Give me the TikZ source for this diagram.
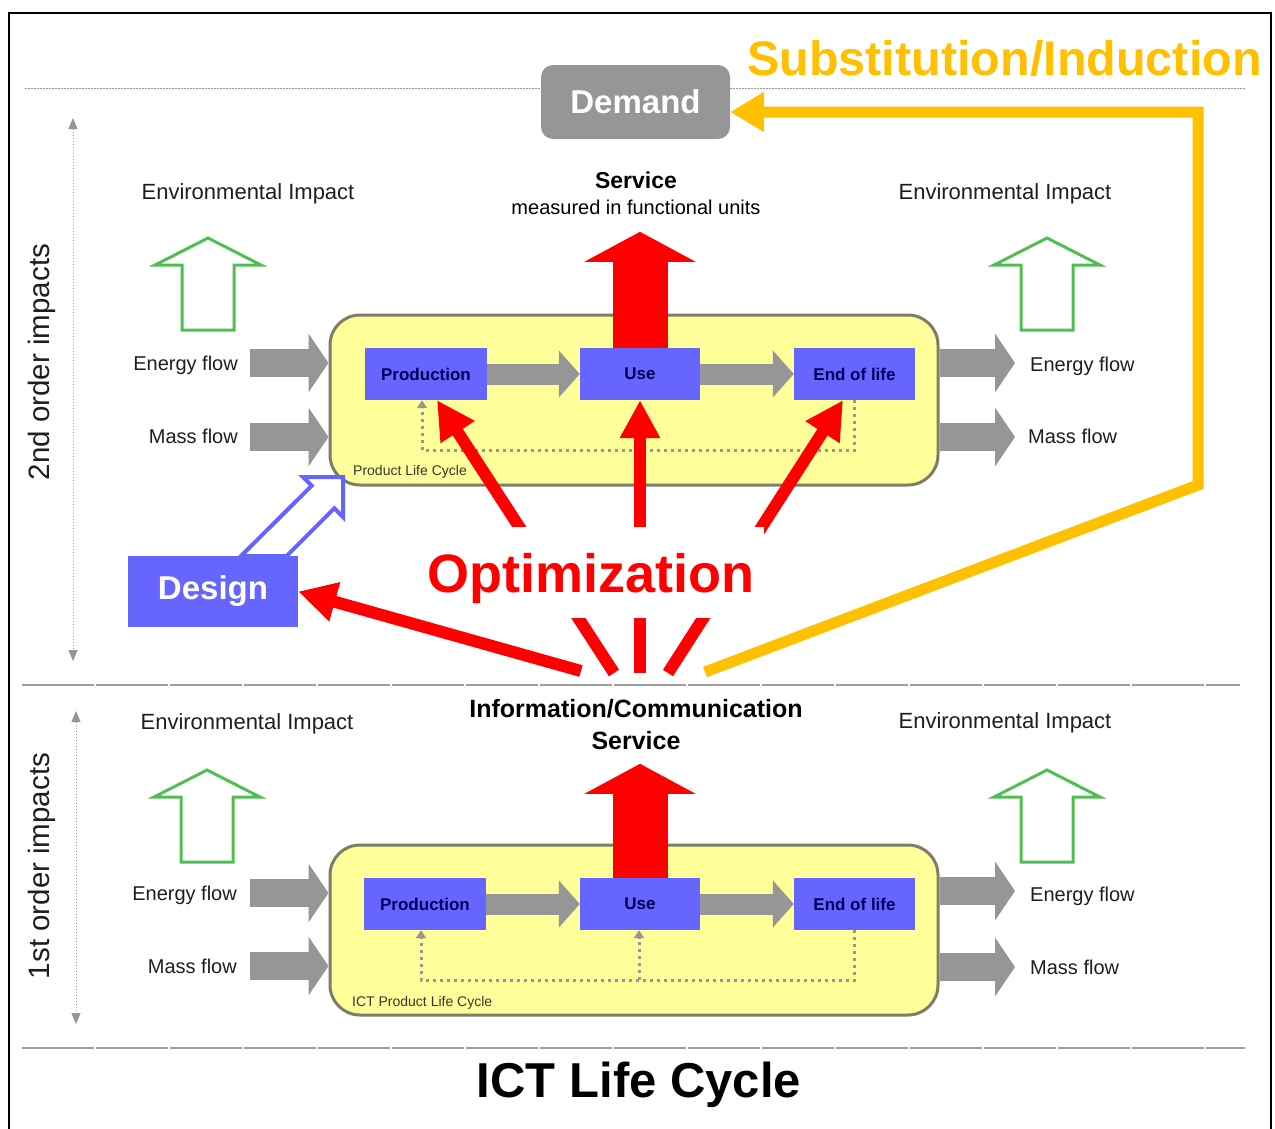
\documentclass[tikz,border=0pt]{standalone}
\usepackage{fontspec}
\setmainfont{Liberation Sans}
\usetikzlibrary{arrows.meta,calc}

\definecolor{boxblue}{RGB}{102,102,255}
\definecolor{lcyellow}{RGB}{255,255,153}
\definecolor{lcedge}{RGB}{125,125,105}
\definecolor{flowgray}{RGB}{150,150,150}
\definecolor{demandgray}{RGB}{150,150,150}
\definecolor{impactgreen}{RGB}{80,190,80}
\definecolor{gold}{RGB}{255,192,0}
\definecolor{optred}{RGB}{255,0,0}
\definecolor{navytext}{RGB}{0,0,90}
\definecolor{labelgray}{RGB}{30,30,30}
\definecolor{designblue}{RGB}{100,100,255}

\newcommand\setfs[1]{\fontsize{#1}{#1}\selectfont}

\tikzset{
  lcbox/.style={draw=lcedge, line width=3pt, fill=lcyellow, rounded corners=30pt,
    minimum width=608pt, minimum height=170pt},
  stagebox/.style={fill=boxblue, minimum height=52pt, text=navytext,
    font=\setfs{17}\bfseries, inner sep=0pt},
  stagearrow/.style={draw=flowgray, line width=21pt, -{Triangle[length=21pt,width=46pt]}},
  ioarrow/.style={draw=flowgray, line width=28pt, -{Triangle[length=20pt,width=58pt]}},
  fbline/.style={draw=flowgray, line width=3pt, dash pattern=on 3pt off 4pt,
    -{Triangle[length=8pt,width=10pt]}},
  svcarrow/.style={draw=optred, line width=55pt, -{Triangle[length=30pt,width=110pt]}},
  optarrow/.style={draw=optred, line width=12pt, -{Triangle[length=38pt,width=38pt]}},
  goldline/.style={draw=gold, line width=11pt, line join=miter,
    -{Triangle[length=34pt,width=38pt]}},
  impactlabel/.style={text=labelgray, font=\setfs{22}, inner sep=0pt},
  flowlabel/.style={text=labelgray, font=\setfs{20}, inner sep=0pt},
  cyclelabel/.style={text=labelgray!90, font=\setfs{14}, inner sep=0pt, anchor=base west},
  axisline/.style={draw=flowgray, line width=1pt, dash pattern=on 1.5pt off 1.5pt,
    {Triangle[length=11pt,width=9pt]}-{Triangle[length=11pt,width=9pt]}},
  axislabel/.style={text=labelgray, font=\setfs{29.5}, rotate=90, inner sep=0pt},
  seprule/.style={draw=gray!75, line width=1.2pt, dash pattern=on 72pt off 2pt},
  topdots/.style={draw=gray!80, line width=1pt, dash pattern=on 1.5pt off 1.5pt},
  envarrow/.pic={
    \draw[impactgreen, line width=3pt, fill=white, line join=miter]
      (0,0) -- (53,27) -- (26,27) -- (26,92) -- (-26,92) -- (-26,27) -- (-53,27) -- cycle;
  }
}

\begin{document}
\begin{tikzpicture}[x=1pt,y=-1pt]
  \useasboundingbox (0,0) rectangle (1275,1128);
  \fill[white] (0,0) rectangle (1275,1128);

  % outer frame
  \draw[black, line width=2pt] (9,13) rectangle (1271,1135);

  % level separators and the impact axes
  \draw[topdots] (25,88) -- (1245,88);
  \draw[seprule] (22,685) -- (1240,685);
  \draw[seprule] (22,1048) -- (1245,1048);
  \draw[axisline] (73,118) -- (73,661);
  \draw[axisline] (76,711) -- (76,1024);
  \node[axislabel] (lvl2) at (42,362) {2nd order impacts};
  \node[axislabel] (lvl1) at (42,866) {1st order impacts};

  % demand and rebound label
  \node[fill=demandgray, rounded corners=12pt, minimum width=189pt, minimum height=74pt,
        text=white, font=\setfs{33}\bfseries, inner sep=0pt] (demand) at (635.5,102) {Demand};
  \node[anchor=base west, text=gold, font=\setfs{48.5}\bfseries, inner sep=0pt]
        (subst) at (747,75) {Substitution/Induction};

  % environmental impact markers
  \node[impactlabel] (envL2) at (248,194) {Environmental Impact};
  \node[impactlabel] (envR2) at (1005,194) {Environmental Impact};
  \node[impactlabel] (envL1) at (247,724) {Environmental Impact};
  \node[impactlabel] (envR1) at (1005,723) {Environmental Impact};
  \pic at (208,238) {envarrow};
  \pic at (1047,238) {envarrow};
  \pic at (207,770) {envarrow};
  \pic at (1047,770) {envarrow};

  % service labels
  \node[text=black, font=\setfs{23}\bfseries, inner sep=0pt] (svc2) at (636,180) {Service};
  \node[text=black, font=\setfs{20}, inner sep=0pt] (svcunit) at (636,207) {measured in functional units};
  \node[text=black, font=\fontsize{25}{32}\selectfont\bfseries, align=center, inner sep=0pt]
        (svc1) at (636,725) {Information/Communication\\Service};

  % ---------- product life cycle (2nd order) ----------
  \node[lcbox] (plc2) at (634,400) {};
  \node[stagebox, minimum width=122pt] (prod2) at (426,374) {Production};
  \node[stagebox, minimum width=120pt] (use2) at (640,374) {Use};
  \node[stagebox, minimum width=121pt] (eol2) at (854.5,374) {End of life};
  \draw[stagearrow] (prod2) -- (use2);
  \draw[stagearrow] (use2) -- (eol2);
  \draw[fbline] (eol2.south) -- ++(0,50) -| ([xshift=-4pt]prod2.south);
  \node[cyclelabel] (plc2name) at (353,475) {Product Life Cycle};

  \coordinate (ein2) at (250,363);
  \coordinate (min2) at (250,437);
  \coordinate (eout2) at (1015,363);
  \coordinate (mout2) at (1015,437);
  \draw[ioarrow] (ein2) -- (ein2 -| plc2.west);
  \draw[ioarrow] (min2) -- (min2 -| plc2.west);
  \draw[ioarrow] (eout2 -| plc2.east) -- (eout2);
  \draw[ioarrow] (mout2 -| plc2.east) -- (mout2);
  \node[flowlabel, anchor=east] (einL2) at (238,365) {Energy flow};
  \node[flowlabel, anchor=east] (minL2) at (238,436) {Mass flow};
  \node[flowlabel, anchor=west] (eoutL2) at (1030,366) {Energy flow};
  \node[flowlabel, anchor=west] (moutL2) at (1028,436) {Mass flow};

  \draw[svcarrow] (use2.north) -- ++(0,-116);

  % ---------- ICT product life cycle (1st order) ----------
  \node[lcbox] (plc1) at (634,930) {};
  \node[stagebox, minimum width=122pt] (prod1) at (425,904) {Production};
  \node[stagebox, minimum width=120pt] (use1) at (640,904) {Use};
  \node[stagebox, minimum width=121pt] (eol1) at (854.5,904) {End of life};
  \draw[stagearrow] (prod1) -- (use1);
  \draw[stagearrow] (use1) -- (eol1);
  \draw[fbline] (eol1.south) -- ++(0,50) -| ([xshift=-4pt]prod1.south);
  \draw[fbline] ($(use1.south)+(-1,50)$) -- ([xshift=-1pt]use1.south);
  \node[cyclelabel] (plc1name) at (352,1006) {ICT Product Life Cycle};

  \coordinate (ein1) at (250,893);
  \coordinate (min1) at (250,966);
  \coordinate (eout1) at (1015,891);
  \coordinate (mout1) at (1015,967);
  \draw[ioarrow] (ein1) -- (ein1 -| plc1.west);
  \draw[ioarrow] (min1) -- (min1 -| plc1.west);
  \draw[ioarrow] (eout1 -| plc1.east) -- (eout1);
  \draw[ioarrow] (mout1 -| plc1.east) -- (mout1);
  \node[flowlabel, anchor=east] (einL1) at (237,895) {Energy flow};
  \node[flowlabel, anchor=east] (minL1) at (237,966) {Mass flow};
  \node[flowlabel, anchor=west] (eoutL1) at (1030,896) {Energy flow};
  \node[flowlabel, anchor=west] (moutL1) at (1030,967) {Mass flow};

  \draw[svcarrow] (use1.north) -- ++(0,-114);

  % ---------- optimization effects ----------
  \coordinate (optA) at (614,673);
  \coordinate (optB) at (640,673);
  \coordinate (optC) at (668,673);
  \coordinate (optD) at (581,671);
  \draw[optarrow] (optA) -- ([xshift=11pt]prod2.south);
  \draw[optarrow] (optB) -- (use2.south);
  \draw[optarrow] (optC) -- ([xshift=-11.5pt]eol2.south);
  \node[fill=white, minimum height=91pt, inner xsep=10pt, inner ysep=0pt,
        text height=50pt, text depth=11pt,
        text=optred, font=\setfs{54}\bfseries] (optlabel) at (591,572.5) {Optimization};

  % design lever
  \draw[designblue, line width=4pt, fill=white, line join=miter]
    (241,556) -- (311.7,485.7) -- (303,477) -- (343,477) -- (343,517)
    -- (334.3,508.3) -- (286.6,556) -- cycle;
  \node[fill=boxblue, minimum width=170pt, minimum height=71pt, inner sep=0pt,
        text=white, font=\setfs{33}\bfseries] (design) at (213,591.5) {Design};
  \draw[optarrow] (optD) -- (design.east);

  % substitution / induction feedback to demand
  \coordinate (substsrc) at (705,672);
  \draw[goldline] (substsrc) -- (1198,485) -- (1198,112) -- (demand.east |- 0,112);

  % title
  \node[text=black, font=\setfs{49}\bfseries, inner sep=0pt] (title) at (639,1085) {ICT Life Cycle};
\end{tikzpicture}
\end{document}
